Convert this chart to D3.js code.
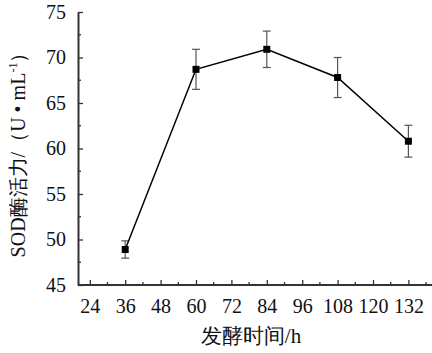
<!DOCTYPE html>
<html>
<head>
<meta charset="utf-8">
<script src="https://cdn.jsdelivr.net/npm/d3@7"></script>
<style>
body { margin: 0; background: #fff; }
svg text { font-family: "Liberation Serif", "Times New Roman", serif; fill: #111; }
</style>
</head>
<body>
<svg width="432" height="353"></svg>
<script>
// fermentation time (h) and SOD activity
var hours = [36, 60, 84, 108, 132];
var sod = [48.9, 68.7, 70.9, 67.8, 60.8];
var sodErr = [0.95, 2.2, 2.0, 2.2, 1.75];
var xTicks = [24, 36, 48, 60, 72, 84, 96, 108, 120, 132];
var yTicks = [45, 50, 55, 60, 65, 70, 75];

var svg = d3.select('svg');
var x = d3.scaleLinear().domain([20, 140]).range([78, 432]);
var y = d3.scaleLinear().domain([45, 75]).range([285, 12]);
var axisColor = "#333";

// minor ticks first
var xMinor = d3.range(30, 140, 12);
var yMinor = d3.range(47.5, 75, 5);

var xAxis = svg.append("g")
	.attr("transform", "translate(0," + y(45) + ")")
	.call(d3.axisBottom(x).tickValues(xTicks).tickSizeInner(-5).tickSizeOuter(0).tickPadding(14));
xAxis.select(".domain").attr("stroke", axisColor).attr("stroke-width", 2).attr("d", "M" + x(20) + ",0H" + x(140));
xAxis.selectAll(".tick line").attr("stroke", axisColor).attr("stroke-width", 1.3);
xAxis.selectAll("text").style("font-size", "20px").attr("fill", "#111");
xAxis.selectAll(".minor").data(xMinor).enter().append("line")
	.attr("class", "minor")
	.attr("x1", function(d) { return x(d); })
	.attr("x2", function(d) { return x(d); })
	.attr("y1", 0).attr("y2", -3)
	.attr("stroke", axisColor).attr("stroke-width", 1.3);

var yAxis = svg.append("g")
	.attr("transform", "translate(" + x(20) + ",0)")
	.call(d3.axisLeft(y).tickValues(yTicks).tickSizeInner(-5).tickSizeOuter(0).tickPadding(12));
yAxis.select(".domain").attr("stroke", axisColor).attr("stroke-width", 2);
yAxis.selectAll(".tick line").attr("stroke", axisColor).attr("stroke-width", 1.3);
yAxis.selectAll("text").style("font-size", "20px").attr("fill", "#111");
yAxis.selectAll(".minor").data(yMinor).enter().append("line")
	.attr("class", "minor")
	.attr("y1", function(d) { return y(d); })
	.attr("y2", function(d) { return y(d); })
	.attr("x1", 0).attr("x2", 3)
	.attr("stroke", axisColor).attr("stroke-width", 1.3);

var pts = hours.map(function(h, i) { return {h: h, v: sod[i], e: sodErr[i]}; });

// error bars
var eb = svg.append("g").attr("stroke", "#555").attr("stroke-width", 1.2);
pts.forEach(function(d) {
	eb.append("line").attr("x1", x(d.h)).attr("x2", x(d.h)).attr("y1", y(d.v - d.e)).attr("y2", y(d.v + d.e));
	eb.append("line").attr("x1", x(d.h) - 4).attr("x2", x(d.h) + 4).attr("y1", y(d.v - d.e)).attr("y2", y(d.v - d.e));
	eb.append("line").attr("x1", x(d.h) - 4).attr("x2", x(d.h) + 4).attr("y1", y(d.v + d.e)).attr("y2", y(d.v + d.e));
});

var line = d3.line().x(function(d) { return x(d.h); }).y(function(d) { return y(d.v); });
svg.append("path").datum(pts)
	.attr("d", line)
	.attr("fill", "none")
	.attr("stroke", "#000")
	.attr("stroke-width", 1.5);

svg.selectAll("rect.pt").data(pts).enter().append("rect")
	.attr("class", "pt")
	.attr("x", function(d) { return x(d.h) - 3.5; })
	.attr("y", function(d) { return y(d.v) - 3.5; })
	.attr("width", 7).attr("height", 7)
	.attr("fill", "#000");

svg.append("text")
	.attr("x", 251).attr("y", 343)
	.attr("text-anchor", "middle")
	.style("font-size", "21px")
	.text("发酵时间/h");

var yt = svg.append("text")
	.attr("transform", "translate(25,150) rotate(-90)")
	.attr("text-anchor", "middle")
	.style("font-size", "20px");
yt.append("tspan").text("SOD酶活力/（U • mL");
yt.append("tspan").attr("dy", -8).style("font-size", "12px").text("-1");
yt.append("tspan").attr("dy", 8).text("）");
</script>
</body>
</html>
